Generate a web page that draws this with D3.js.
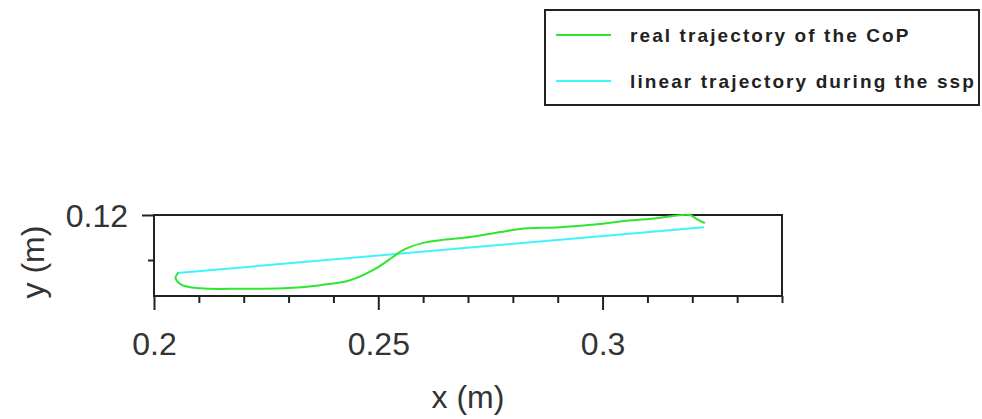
<!DOCTYPE html>
<html>
<head>
<meta charset="utf-8">
<script src="https://cdn.jsdelivr.net/npm/d3@7"></script>
<style>
  body { margin: 0; background: #fff; }
  svg { display: block; font-family: "Liberation Sans", Arial, sans-serif; }
  .axis path { display: none; }
  .axis line { stroke: #222; stroke-width: 2px; }
  .axis text { font-size: 32px; fill: #333; }
  .legend text { font-size: 19px; font-weight: bold; fill: #222; letter-spacing: 2.1px; }
</style>
</head>
<body>
<svg width="982" height="419"></svg>
<script>
// real CoP trajectory (x, y in m)
var realX = [0.2054, 0.2048, 0.2063, 0.2103, 0.2192, 0.2288, 0.2371, 0.2437, 0.2489, 0.2533,
             0.2555, 0.2600, 0.2638, 0.2705, 0.2772, 0.2816, 0.2905, 0.2994, 0.3054, 0.3121,
             0.3157, 0.3195, 0.3210, 0.3228];
var realY = [0.1072, 0.1060, 0.1044, 0.1037, 0.1036, 0.1037, 0.1044, 0.1055, 0.1078, 0.1107,
             0.1122, 0.1138, 0.1144, 0.1151, 0.1162, 0.1169, 0.1173, 0.1180, 0.1187, 0.1193,
             0.1198, 0.1200, 0.1191, 0.1182];
// linear trajectory during the single support phase
var linX = [0.2052, 0.3226];
var linY = [0.1071, 0.1173];

var xMajor = [0.2, 0.25, 0.3],
    xMinor = [0.21, 0.22, 0.23, 0.24, 0.26, 0.27, 0.28, 0.29, 0.31, 0.32, 0.33, 0.34],
    yMajor = [0.12],
    yMinor = [0.11];

var legendLabels = ["real trajectory of the CoP", "linear trajectory during the ssp"],
    legendColors = ["#2ee62e", "#3ef4ff"];

var svg = d3.select("svg"),
    margin = {top: 215, right: 200, bottom: 123, left: 154},
    width = svg.attr("width") - margin.left - margin.right,
    height = svg.attr("height") - margin.top - margin.bottom;

var x = d3.scaleLinear().domain([0.2, 0.34]).range([0, width]),
    y = d3.scaleLinear().domain([0.102, 0.12]).range([height, 0]);

var g = svg.append("g")
    .attr("transform", "translate(" + margin.left + "," + margin.top + ")");

// minor ticks first, then major with labels
g.append("g").attr("class", "axis")
    .attr("transform", "translate(0," + height + ")")
    .call(d3.axisBottom(x).tickValues(xMinor).tickSize(7).tickFormat(""));
g.append("g").attr("class", "axis")
    .attr("transform", "translate(0," + height + ")")
    .call(d3.axisBottom(x).tickValues(xMajor).tickSize(14).tickPadding(22).tickFormat(d3.format("")))
  .selectAll("text").attr("dy", "0.71em");

g.append("g").attr("class", "axis")
    .call(d3.axisLeft(y).tickValues(yMinor).tickSize(6).tickFormat(""));
g.append("g").attr("class", "axis")
    .call(d3.axisLeft(y).tickValues(yMajor).tickSize(12).tickPadding(14).tickFormat(d3.format("")))
  .selectAll("text").attr("dy", "0.35em");

// frame
g.append("rect")
    .attr("width", width)
    .attr("height", height)
    .style("fill", "none")
    .style("stroke", "#222")
    .style("stroke-width", 2);

var line = d3.line()
    .curve(d3.curveCatmullRom)
    .x(function(d) { return x(d[0]); })
    .y(function(d) { return y(d[1]); });

g.append("path")
    .datum(d3.zip(linX, linY))
    .attr("d", line)
    .style("fill", "none")
    .style("stroke", legendColors[1])
    .style("stroke-width", 2);

g.append("path")
    .datum(d3.zip(realX, realY))
    .attr("d", line)
    .style("fill", "none")
    .style("stroke", legendColors[0])
    .style("stroke-width", 2);

// axis titles
svg.append("text")
    .attr("x", margin.left + x(0.27))
    .attr("y", 408)
    .attr("text-anchor", "middle")
    .style("font-size", "32px")
    .style("fill", "#333")
    .text("x (m)");

svg.append("text")
    .attr("transform", "translate(44,262) rotate(-90)")
    .attr("text-anchor", "middle")
    .style("font-size", "32px")
    .style("fill", "#333")
    .text("y (m)");

// legend
var legend = svg.append("g").attr("class", "legend");
legend.append("rect")
    .attr("x", 545).attr("y", 10)
    .attr("width", 434).attr("height", 95)
    .style("fill", "#fff")
    .style("stroke", "#222")
    .style("stroke-width", 2);

var item = legend.selectAll(".item")
    .data(legendLabels)
  .enter().append("g")
    .attr("class", "item")
    .attr("transform", function(d, i) { return "translate(0," + (35 + i * 46) + ")"; });

item.append("line")
    .attr("x1", 556).attr("x2", 611)
    .style("stroke", function(d, i) { return legendColors[i]; })
    .style("stroke-width", 2);

item.append("text")
    .attr("x", 630)
    .attr("dy", "0.35em")
    .text(function(d) { return d; });
</script>
</body>
</html>
